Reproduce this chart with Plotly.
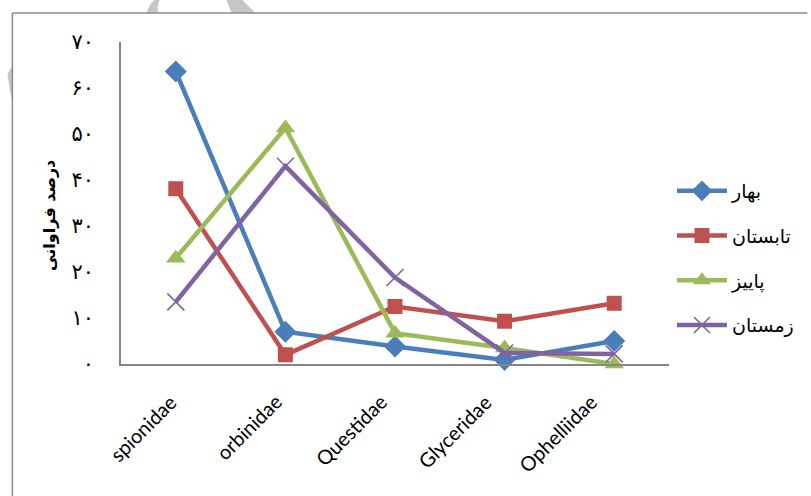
import plotly.graph_objects as go

# Polychaete families and seasonal abundance percentages
families = ["spionidae", "orbinidae", "Questidae", "Glyceridae", "Ophelliidae"]
spring = [63.6, 7.0, 3.8, 0.9, 5.0]      # بهار
summer = [38.1, 2.0, 12.5, 9.3, 13.2]    # تابستان
autumn = [23.0, 51.3, 6.7, 3.5, 0.0]     # پاییز
winter = [13.5, 43.0, 18.8, 2.4, 2.2]    # زمستان

season_names = ["بهار", "تابستان", "پاییز", "زمستان"]
y_tickvals = [0, 10, 20, 30, 40, 50, 60, 70]
y_ticktext = ["۰", "۱۰", "۲۰", "۳۰", "۴۰", "۵۰", "۶۰", "۷۰"]
y_title = "درصد فراوانی"

W, H = 811, 496
L, R, T, B = 121, 135, 42, 132
PW, PH = W - L - R, H - T - B


def px(x):
    return (x - L) / PW


def py(y):
    return (H - B - y) / PH


series = [
    (spring, "#4A7EBB", dict(symbol="diamond", size=17)),
    (summer, "#C0504D", dict(symbol="square", size=15)),
    (autumn, "#9BBB59", dict(symbol="triangle-up", size=17)),
    (winter, "#8064A2", dict(symbol="x-thin", size=17,
                              line=dict(width=1.6, color="#8064A2"))),
]

fig = go.Figure()
for i, (vals, color, mk) in enumerate(series):
    fig.add_trace(go.Scatter(
        x=families, y=vals, name=season_names[i], mode="lines+markers",
        legendgroup=f"g{i}",
        line=dict(color=color, width=4.5),
        marker=dict(color=color, **mk),
        cliponaxis=False,
    ))

grey = "#c6c6c6"
shapes = [
    # faint background stamp fragments
    dict(type="path", xref="paper", yref="paper", layer="below",
         path=(f"M{px(147)},{py(13)} Q{px(150)},{py(2)} {px(160)},{py(-4)} "
               f"L{px(163)},{py(-4)} Q{px(156)},{py(4)} {px(159)},{py(13)} Z"),
         fillcolor=grey, line=dict(width=0)),
    dict(type="path", xref="paper", yref="paper", layer="below",
         path=(f"M{px(174)},{py(-4)} Q{px(180)},{py(4)} {px(188)},{py(-4)} Z"),
         fillcolor=grey, line=dict(width=0)),
    dict(type="path", xref="paper", yref="paper", layer="below",
         path=(f"M{px(226)},{py(-4)} L{px(240)},{py(-4)} "
               f"L{px(257)},{py(13)} L{px(233)},{py(13)} Z"),
         fillcolor=grey, line=dict(width=0)),
    dict(type="path", xref="paper", yref="paper", layer="below",
         path=(f"M{px(6)},{py(74)} L{px(11)},{py(66)} "
               f"L{px(11)},{py(103)} Q{px(8)},{py(88)} {px(6)},{py(74)} Z"),
         fillcolor=grey, line=dict(width=0)),
    # outer frame (top and left edges)
    dict(type="line", xref="paper", yref="paper",
         x0=px(11), x1=px(W + 5), y0=py(13), y1=py(13),
         line=dict(color="#8a8a8a", width=1.5)),
    dict(type="line", xref="paper", yref="paper",
         x0=px(11), x1=px(11), y0=py(13), y1=py(H + 5),
         line=dict(color="#8a8a8a", width=1.5)),
]

# rotated category labels below the x axis, drifting slightly left
annotations = []
for i, fam in enumerate(families):
    annotations.append(dict(
        text=fam, xref="x", yref="paper", x=fam, y=py(387),
        xanchor="right", yanchor="top", textangle=-45, showarrow=False,
        xshift=8 - 4.5 * i,
        font=dict(family="Lato", size=20, color="black"),
    ))

annotations.append(dict(
    text=f"<b>{y_title}</b>", xref="paper", yref="paper",
    x=px(48), y=py(215), xanchor="center", yanchor="middle",
    showarrow=False, textangle=-90,
    font=dict(family="DejaVu Sans", size=16, color="black"),
))

fig.update_layout(
    width=W, height=H,
    margin=dict(l=L, r=R, t=T, b=B, pad=0),
    paper_bgcolor="white", plot_bgcolor="white",
    showlegend=True,
    legend=dict(
        x=px(679), xanchor="left", y=py(172), yanchor="top",
        font=dict(family="DejaVu Sans", size=19, color="black"),
        tracegroupgap=17, itemwidth=50,
        bgcolor="rgba(0,0,0,0)",
    ),
    xaxis=dict(
        type="category", range=[-0.5, 4.5],
        showline=True, linecolor="#868686", linewidth=1.5,
        showgrid=False, zeroline=False, ticks="", showticklabels=False,
    ),
    yaxis=dict(
        range=[0, 70], tickvals=y_tickvals, ticktext=y_ticktext,
        showline=True, linecolor="#868686", linewidth=1.5,
        showgrid=False, zeroline=False, ticks="",
        ticklabelstandoff=21,
        tickfont=dict(family="DejaVu Sans", size=21, color="black"),
    ),
    shapes=shapes,
    annotations=annotations,
)

fig.write_html("out.html")
